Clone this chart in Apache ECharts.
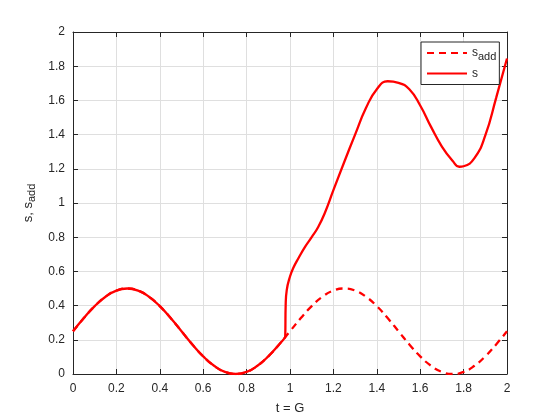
<!DOCTYPE html>
<html>
<head>
<meta charset="utf-8">
<script src="https://cdn.jsdelivr.net/npm/echarts@6/dist/echarts.min.js"></script>
<style>
  html, body { margin: 0; padding: 0; background: #fff; }
  #chart { width: 560px; height: 420px; }
</style>
</head>
<body>
<div id="chart"></div>
<script>
// values
var tAdd = [0, 0.05, 0.1, 0.15, 0.2, 0.25, 0.3, 0.35, 0.4, 0.45, 0.5, 0.55, 0.6, 0.65, 0.7, 0.75, 0.8, 0.85, 0.9, 0.95,
  1.0, 1.05, 1.1, 1.15, 1.2, 1.25, 1.3, 1.35, 1.4, 1.45, 1.5, 1.55, 1.6, 1.65, 1.7, 1.75, 1.8, 1.85, 1.9, 1.95, 2.0]
var sAdd = [0.25, 0.327, 0.397, 0.452, 0.488, 0.5, 0.488, 0.452, 0.397, 0.327, 0.25, 0.173, 0.103, 0.048, 0.012, 0, 0.012, 0.048, 0.103, 0.173,
  0.25, 0.327, 0.397, 0.452, 0.488, 0.5, 0.488, 0.452, 0.397, 0.327, 0.25, 0.173, 0.103, 0.048, 0.012, 0, 0.012, 0.048, 0.103, 0.173, 0.25]

var tS = [0, 0.05, 0.1, 0.15, 0.2, 0.25, 0.3, 0.35, 0.4, 0.45, 0.5, 0.55, 0.6, 0.65, 0.7, 0.75, 0.8, 0.85, 0.9, 0.95,
  0.975, 0.978, 0.98, 0.985, 1.0, 1.015, 1.04, 1.07, 1.1, 1.13, 1.16, 1.2, 1.25, 1.3, 1.35, 1.4, 1.45,
  1.5, 1.55, 1.6, 1.65, 1.7, 1.75, 1.78, 1.8, 1.85, 1.9, 1.95, 2.0]
var sVals = [0.25, 0.327, 0.397, 0.452, 0.488, 0.5, 0.488, 0.452, 0.397, 0.327, 0.25, 0.173, 0.103, 0.048, 0.012, 0, 0.012, 0.048, 0.103, 0.173,
  0.21, 0.22, 0.40, 0.49, 0.57, 0.62, 0.68, 0.745, 0.80, 0.86, 0.94, 1.075, 1.24, 1.40, 1.555, 1.665, 1.712,
  1.703, 1.665, 1.57, 1.445, 1.33, 1.245, 1.212, 1.215, 1.262, 1.395, 1.615, 1.845]

var xTicks = [0, 0.2, 0.4, 0.6, 0.8, 1, 1.2, 1.4, 1.6, 1.8, 2]
var yTicks = [0, 0.2, 0.4, 0.6, 0.8, 1, 1.2, 1.4, 1.6, 1.8, 2]

function pairs (xs, ys) {
  return xs.map(function (x, i) { return [x, ys[i]] })
}

var font = 'Liberation Sans, Arial, Helvetica, sans-serif'
var ink = '#262626'
var gridColor = '#dfdfdf'

function makeAxis (pos, ticks, showLabels) {
  return {
    type: 'value',
    position: pos,
    min: ticks[0],
    max: ticks[ticks.length - 1],
    interval: ticks[1] - ticks[0],
    axisLine: { show: true, onZero: false, lineStyle: { color: ink, width: 1 } },
    axisTick: { show: true, inside: true, length: 5, lineStyle: { color: ink } },
    axisLabel: { show: showLabels, color: ink, fontFamily: font, fontSize: 12, margin: 9 },
    splitLine: { show: showLabels, lineStyle: { color: gridColor, width: 1 } }
  }
}

var xBottom = makeAxis('bottom', xTicks, true)
xBottom.name = 't = G'
xBottom.nameLocation = 'middle'
xBottom.nameGap = 28
xBottom.nameTextStyle = { color: ink, fontFamily: font, fontSize: 13 }

var yLeft = makeAxis('left', yTicks, true)
yLeft.axisLabel.margin = 8
yLeft.name = '{a|s, s}{b|add}'
yLeft.nameLocation = 'middle'
yLeft.nameRotate = 90
yLeft.nameGap = 30
yLeft.nameTextStyle = {
  color: ink,
  fontFamily: font,
  rich: {
    a: { fontSize: 13, color: ink, fontFamily: font },
    b: { fontSize: 11, color: ink, fontFamily: font, padding: [7, 0, 0, 0] }
  }
}

var chart = echarts.init(document.getElementById('chart'))
chart.setOption({
  animation: false,
  backgroundColor: '#fff',
  grid: { left: 73, right: 53, top: 32, bottom: 46, containLabel: false },
  xAxis: [xBottom, makeAxis('top', xTicks, false)],
  yAxis: [yLeft, makeAxis('right', yTicks, false)],
  legend: {
    orient: 'vertical',
    left: 421,
    top: 42,
    itemWidth: 40,
    itemHeight: 10,
    itemGap: 5,
    padding: [5, 3, 5, 5],
    borderColor: ink,
    borderWidth: 1,
    backgroundColor: '#fff',
    data: ['s_add', 's'],
    itemStyle: { color: 'rgba(0,0,0,0)', borderColor: 'rgba(0,0,0,0)', borderWidth: 0, opacity: 0 },
    formatter: function (name) {
      return name === 's_add' ? '{a|s}{b|add}' : '{a|s}'
    },
    textStyle: {
      color: ink,
      fontFamily: font,
      rich: {
        a: { fontSize: 12, color: ink, fontFamily: font },
        b: { fontSize: 11, color: ink, fontFamily: font, padding: [8, 0, 0, 0] }
      }
    }
  },
  series: [
    {
      name: 's_add',
      type: 'line',
      data: pairs(tAdd, sAdd),
      showSymbol: false,
      symbol: 'none',
      smooth: 0.5,
      lineStyle: { color: '#ff0000', width: 2.3, type: [7, 5] },
      itemStyle: { color: '#ff0000' }
    },
    {
      name: 's',
      type: 'line',
      data: pairs(tS, sVals),
      showSymbol: false,
      symbol: 'none',
      smooth: 0.5,
      lineStyle: { color: '#ff0000', width: 2.3 },
      itemStyle: { color: '#ff0000' }
    }
  ]
})
</script>
</body>
</html>
